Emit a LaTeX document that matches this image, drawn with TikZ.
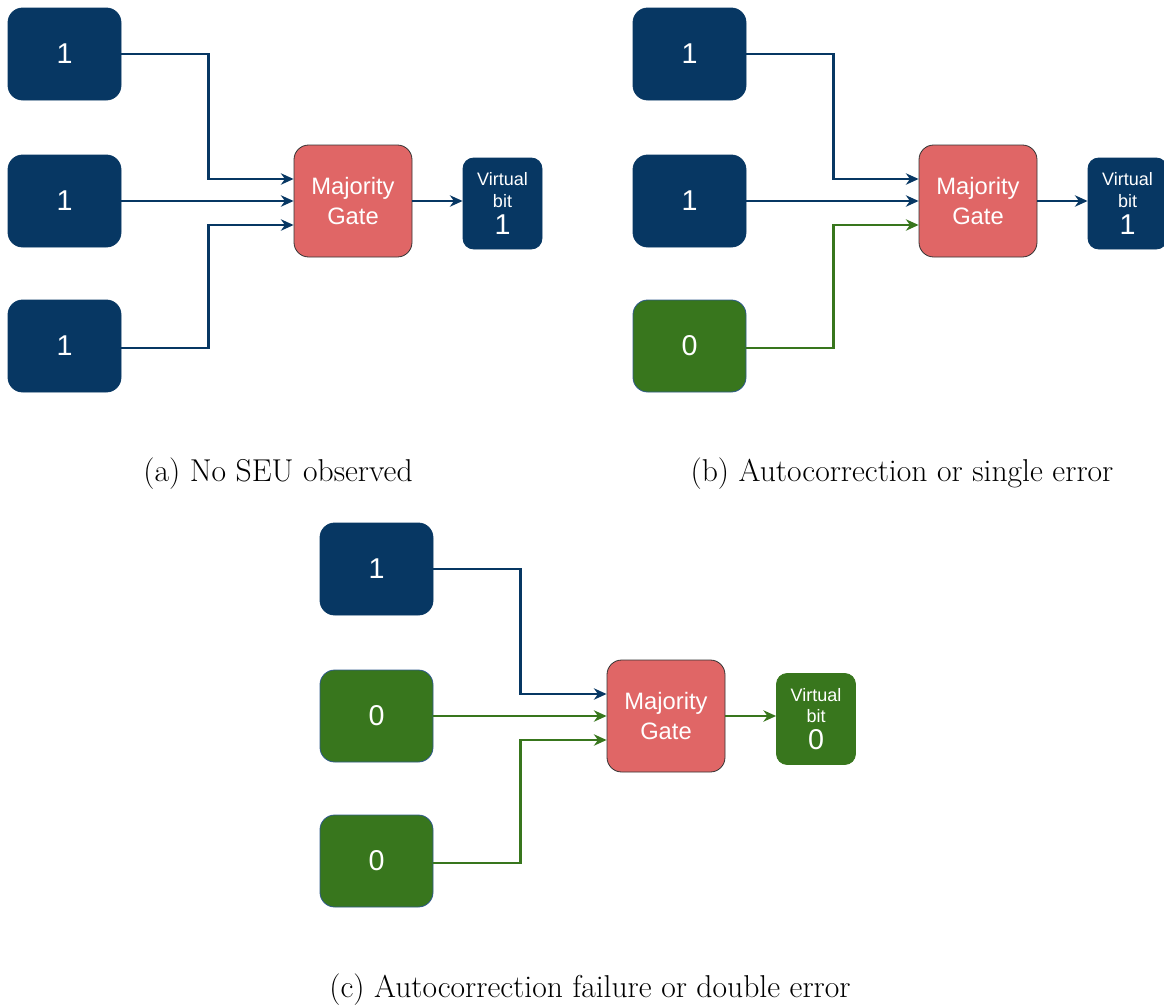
\documentclass[tikz,border=0pt]{standalone}
\usepackage{fontspec}
\newfontfamily\boxfont{Liberation Sans}
\usetikzlibrary{arrows.meta,calc}
\definecolor{navy}{HTML}{073763}
\definecolor{dgreen}{HTML}{38761D}
\definecolor{lred}{HTML}{E06666}
\definecolor{gborder}{HTML}{2F5A8A}
\tikzset{
  bitbox/.style={rounded corners=11pt, minimum width=84.75pt, minimum height=69pt, inner sep=0pt, text=white, font=\boxfont\fontsize{21.5}{24}\selectfont},
  onebox/.style={bitbox, fill=navy, draw=navy, line width=0.6pt},
  zerobox/.style={bitbox, fill=dgreen, draw=gborder, line width=0.6pt},
  gate/.style={rounded corners=11pt, minimum width=88.5pt, minimum height=84pt, inner sep=0pt, fill=lred, draw=black!80, line width=0.6pt, text=white, align=center, font=\boxfont\fontsize{17.8}{22}\selectfont},
  vbit/.style={rounded corners=8pt, minimum width=59.25pt, minimum height=68.25pt, inner sep=0pt, text=white, align=center, line width=0.6pt, font=\boxfont\fontsize{13.5}{15.8}\selectfont},
  vone/.style={vbit, fill=navy, draw=navy},
  vzero/.style={vbit, fill=dgreen, draw=dgreen},
  conn/.style={line width=1.7pt, -{Stealth[length=9.5pt, width=8.5pt, inset=3pt]}},
  bconn/.style={conn, draw=navy},
  gconn/.style={conn, draw=dgreen},
  caption/.style={anchor=base, inner sep=0pt, font=\fontsize{23.7}{28}\selectfont}
}
\begin{document}
\begin{tikzpicture}[x=0.75pt, y=-0.75pt]
\useasboundingbox (0,0) rectangle (1164,1007);
% ---------- panel (a)
\node[onebox] (a1) at (64.5,54) {1};
\node[onebox] (a2) at (64.5,201) {1};
\node[onebox] (a3) at (64.5,346) {1};
\node[gate] (ag) at (353,201) {Majority\\Gate};
\node[vone] (av) at (502.5,203.5) {Virtual\\bit\\[4.5pt]\fontsize{21.5}{22}\selectfont 1};
\draw[bconn] (a1.east) -- ++(87,0) |- ($(ag.west)+(0,-22)$);
\draw[bconn] (a2.east) -- (ag.west);
\draw[bconn] ($(a3.east)+(0,2)$) -- ++(87,0) |- ($(ag.west)+(0,24)$);
\draw[bconn] (ag.east) -- (ag.east -| av.west);
\node[caption] (capa) at (278,481) {(a) No SEU observed};
% ---------- panel (b)
\node[onebox] (b1) at (689.5,54) {1};
\node[onebox] (b2) at (689.5,201) {1};
\node[zerobox] (b3) at (689.5,346) {0};
\node[gate] (bg) at (978,201) {Majority\\Gate};
\node[vone] (bv) at (1127.5,203.5) {Virtual\\bit\\[4.5pt]\fontsize{21.5}{22}\selectfont 1};
\draw[bconn] (b1.east) -- ++(87,0) |- ($(bg.west)+(0,-22)$);
\draw[bconn] (b2.east) -- (bg.west);
\draw[gconn] ($(b3.east)+(0,2)$) -- ++(87,0) |- ($(bg.west)+(0,24)$);
\draw[bconn] (bg.east) -- (bg.east -| bv.west);
\node[caption] (capb) at (902,481) {(b) Autocorrection or single error};
% ---------- panel (c)
\node[onebox] (c1) at (376.5,569) {1};
\node[zerobox] (c2) at (376.5,716) {0};
\node[zerobox] (c3) at (376.5,861) {0};
\node[gate] (cg) at (666,716) {Majority\\Gate};
\node[vzero] (cv) at (816,719) {Virtual\\bit\\[4.5pt]\fontsize{21.5}{22}\selectfont 0};
\draw[bconn] (c1.east) -- ++(87,0) |- ($(cg.west)+(0,-22)$);
\draw[gconn] (c2.east) -- (cg.west);
\draw[gconn] ($(c3.east)+(0,2)$) -- ++(87,0) |- ($(cg.west)+(0,24)$);
\draw[gconn] (cg.east) -- (cg.east -| cv.west);
\node[caption] (capc) at (590,997) {(c) Autocorrection failure or double error};
\end{tikzpicture}
\end{document}
